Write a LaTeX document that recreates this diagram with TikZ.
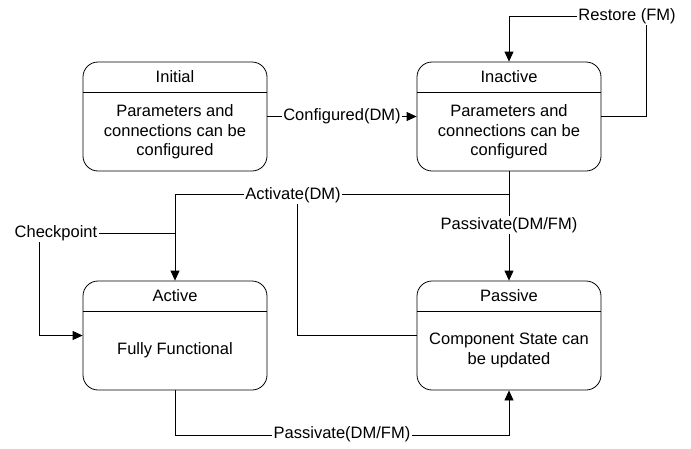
\documentclass[tikz,border=0pt]{standalone}
\usepackage{fontspec}
\setmainfont{Liberation Sans}
\usetikzlibrary{arrows.meta}

\begin{document}
\begin{tikzpicture}[x=1pt,y=-1pt,
  font=\fontsize{16.5}{19.5}\selectfont,
  line width=0.8pt,
  state/.style={draw,rounded corners=15pt,minimum width=184pt,minimum height=109pt,inner sep=0pt},
  title/.style={inner sep=0pt},
  body/.style={align=center,inner sep=0pt},
  lbl/.style={fill=white,inner sep=1.5pt},
  arr/.style={-{Triangle[length=10pt,width=9pt]}}]
\useasboundingbox (0,0) rectangle (691,448);

% states
\node[state] (initial) at (175,116.5) {};
\node[title] (initialname) at (175,77) {Initial};
\draw (83,92) -- (267,92);
\node[body] (initialtext) at (175,132) {Parameters and\\connections can be\\configured};

\node[state] (inactive) at (509,116.5) {};
\node[title] (inactivename) at (509,77) {Inactive};
\draw (417,92) -- (601,92);
\node[body] (inactivetext) at (509,132) {Parameters and\\connections can be\\configured};

\node[state] (active) at (175,335.5) {};
\node[title] (activename) at (175,296) {Active};
\draw (83,311) -- (267,311);
\node[body] (activetext) at (175,350) {Fully Functional};

\node[state] (passive) at (509,335.5) {};
\node[title] (passivename) at (509,296) {Passive};
\draw (417,311) -- (601,311);
\node[body] (passivetext) at (509,350.5) {Component State can\\be updated};

% transitions
\draw[arr] (initial.east) -- node[lbl] (configured) {Configured(DM)} (inactive.west);

\draw[arr] (inactive.east) -| (646,16) -| (inactive.north);
\node[lbl] (restore) at (627,16) {Restore (FM)};

\coordinate (split) at (509,194);
\draw (inactive.south) -- (split);
\draw[arr] (split) -| (active.north);
\draw[arr] (split) -- (passive.north);
\draw (passive.west) -| (297,194);
\node[lbl] (activate) at (293,195) {Activate(DM)};
\node[lbl] (passivate) at (509,225) {Passivate(DM/FM)};

\coordinate (chk) at (175,233);
\draw[arr] (chk) -- (39,233) |- (active.west);
\node[lbl] (checkpoint) at (56,233) {Checkpoint};

\draw[arr] (active.south) -- (175,435) -| (passive.south);
\node[lbl] (passivate2) at (342,434) {Passivate(DM/FM)};
\end{tikzpicture}
\end{document}
